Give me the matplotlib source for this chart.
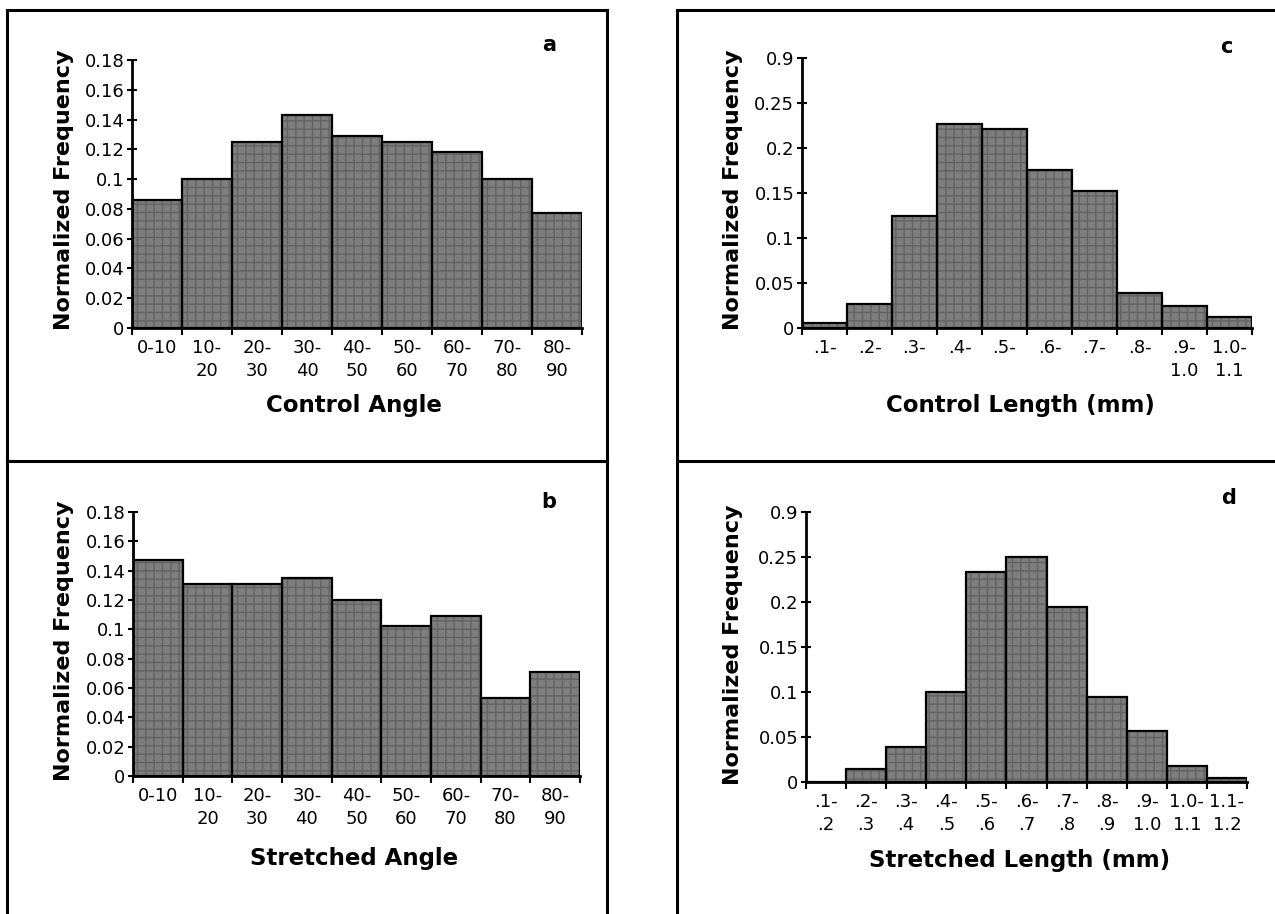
import matplotlib
matplotlib.use("Agg")
import matplotlib.pyplot as plt
from matplotlib.lines import Line2D
import numpy as np

plt.rcParams['font.family'] = ['DejaVu Sans']
plt.rcParams['hatch.linewidth'] = 1.0

# ---------------- data ----------------
angle_labels = ["0-10", "10-\n20", "20-\n30", "30-\n40", "40-\n50", "50-\n60",
                "60-\n70", "70-\n80", "80-\n90"]
control_angle = [0.086, 0.100, 0.125, 0.143, 0.129, 0.125, 0.118, 0.100, 0.077]
stretched_angle = [0.147, 0.131, 0.131, 0.135, 0.120, 0.102, 0.109, 0.053, 0.071]

control_len_labels = [".1-", ".2-", ".3-", ".4-", ".5-", ".6-", ".7-", ".8-",
                      ".9-\n1.0", "1.0-\n1.1"]
control_length = [0.006, 0.027, 0.125, 0.227, 0.221, 0.176, 0.152, 0.039, 0.0245, 0.012]

stretched_len_labels = [".1-\n.2", ".2-\n.3", ".3-\n.4", ".4-\n.5", ".5-\n.6", ".6-\n.7",
                        ".7-\n.8", ".8-\n.9", ".9-\n1.0", "1.0-\n1.1", "1.1-\n1.2"]
stretched_length = [0.0, 0.015, 0.039, 0.100, 0.233, 0.250, 0.194, 0.095, 0.057, 0.018, 0.004]

angle_yticks = [0, 0.02, 0.04, 0.06, 0.08, 0.1, 0.12, 0.14, 0.16, 0.18]
angle_yticklabels = ["0", "0.02", "0.04", "0.06", "0.08", "0.1", "0.12", "0.14", "0.16", "0.18"]
len_yticks = [0, 0.05, 0.1, 0.15, 0.2, 0.25, 0.3]
len_yticklabels = ["0", "0.05", "0.1", "0.15", "0.2", "0.25", "0.9"]

W, H = 1275, 914
fig = plt.figure(figsize=(W / 100, H / 100), dpi=100)


def px_axes(x0, x1, y_top, y_bot):
    return fig.add_axes([x0 / W, 1 - y_bot / H, (x1 - x0) / W, (y_bot - y_top) / H])


def fx(x):
    return x / W


def fy(y):
    return 1 - y / H


def draw_panel(ax, values, labels, yticks, yticklabels, ymax):
    n = len(values)
    x = np.arange(n)
    # pattern layer
    ax.bar(x, values, width=1.0, align='edge', color='#7e7e7e',
           edgecolor='#636363', linewidth=0, hatch='++', zorder=2)
    # outline layer
    ax.bar(x, values, width=1.0, align='edge', fill=False,
           edgecolor='black', linewidth=1.6, zorder=3)
    ax.set_xlim(0, n)
    ax.set_ylim(0, ymax)
    for s in ['top', 'right']:
        ax.spines[s].set_visible(False)
    for s in ['left', 'bottom']:
        ax.spines[s].set_linewidth(2.0)
        ax.spines[s].set_zorder(4)
    ax.set_yticks(yticks)
    ax.set_yticklabels(yticklabels)
    ax.set_xticks(np.arange(n + 1))
    ax.set_xticklabels([])
    ax.set_xticks(x + 0.5, minor=True)
    ax.set_xticklabels(labels, minor=True, linespacing=1.35)
    ax.tick_params(axis='x', which='major', direction='out', length=5, width=1.5)
    ax.tick_params(axis='x', which='minor', length=0, pad=8, labelsize=13)
    ax.tick_params(axis='y', direction='inout', length=7, width=1.5, pad=2,
                   labelsize=13)
    ax.patch.set_alpha(0)


# panel a
ax_a = px_axes(132, 582, 60, 328)
draw_panel(ax_a, control_angle, angle_labels, angle_yticks, angle_yticklabels, 0.18)
# panel b
ax_b = px_axes(133, 580, 512, 776)
draw_panel(ax_b, stretched_angle, angle_labels, angle_yticks, angle_yticklabels, 0.18)
# panel c
ax_c = px_axes(802, 1252, 58, 328)
draw_panel(ax_c, control_length, control_len_labels, len_yticks, len_yticklabels, 0.3)
# panel d
ax_d = px_axes(806, 1247, 512, 782)
draw_panel(ax_d, stretched_length, stretched_len_labels, len_yticks, len_yticklabels, 0.3)

# axis titles
ylab_kw = dict(rotation=90, ha='center', va='center', fontsize=16, fontweight='bold')
fig.text(fx(64), fy(190), "Normalized Frequency", **ylab_kw)
fig.text(fx(64), fy(641), "Normalized Frequency", **ylab_kw)
fig.text(fx(733), fy(190), "Normalized Frequency", **ylab_kw)
fig.text(fx(733), fy(645), "Normalized Frequency", **ylab_kw)

xlab_kw = dict(ha='center', va='center', fontsize=16.5, fontweight='bold')
fig.text(fx(354), fy(406), "Control Angle", **xlab_kw)
fig.text(fx(354), fy(858), "Stretched Angle", **xlab_kw)
fig.text(fx(1020), fy(406), "Control Length (mm)", **xlab_kw)
fig.text(fx(1020), fy(860), "Stretched Length (mm)", **xlab_kw)

# panel letters
let_kw = dict(ha='center', va='center', fontsize=15, fontweight='bold')
fig.text(fx(549), fy(45), "a", **let_kw)
fig.text(fx(549), fy(502), "b", **let_kw)
fig.text(fx(1226), fy(47), "c", **let_kw)
fig.text(fx(1229), fy(498), "d", **let_kw)

# frame boxes
lw = 2.2
segs = [
    ((7, 7), (10, 916)), ((607, 607), (10, 916)), ((7, 607), (10, 10)), ((7, 607), (461, 461)),
    ((677, 677), (10, 916)), ((677, 1280), (10, 10)), ((677, 1280), (461, 461)),
]
for xs, ys in segs:
    fig.add_artist(Line2D([fx(v) for v in xs], [fy(v) for v in ys], color='black',
                          linewidth=lw, solid_capstyle='projecting'))

fig.savefig("out.png", dpi=100)
